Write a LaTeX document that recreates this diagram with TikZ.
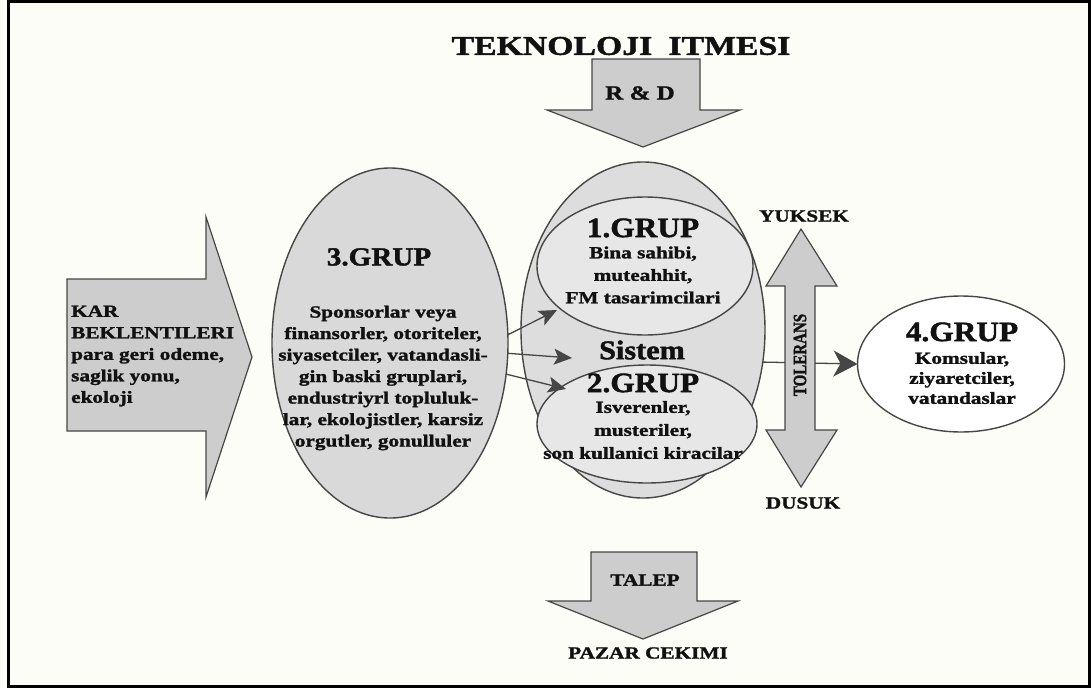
\documentclass[tikz,border=0pt]{standalone}
\usepackage{fontspec}
\usetikzlibrary{arrows.meta,shapes.geometric}
\newfontfamily\diagfont[FakeStretch=1.25,FakeBold=1.6]{Liberation Serif}
\newfontfamily\headfont[FakeStretch=1.12,FakeBold=1.6]{Liberation Serif}
\newfontfamily\plainfont[FakeBold=1.6]{Liberation Serif}
\newcommand{\fs}[2]{\fontsize{#1}{#2}\selectfont}

\definecolor{paper}{HTML}{FCFDF7}
\definecolor{edge}{HTML}{464646}
\definecolor{arrowfill}{HTML}{CDCDCD}
\definecolor{outerfill}{HTML}{D9D9D9}
\definecolor{sysfill}{HTML}{DDDDDD}
\definecolor{innerfill}{HTML}{E7E7E7}
\definecolor{ink}{HTML}{111111}

\tikzset{
  bigarrow/.style={draw=edge, line width=1.2pt, fill=arrowfill, line join=miter},
  blob/.style={ellipse, draw=edge, line width=1.4pt, inner sep=0pt, outer sep=0pt},
  txt/.style={text=ink, inner sep=0pt, font=\diagfont\bfseries\fs{17}{21.5}},
  head/.style={text=ink, inner sep=0pt, font=\headfont\bfseries\fs{27}{30}},
  feed/.style={draw=edge, line width=1.3pt,
    -{Stealth[length=18pt,width=16pt,inset=4pt,fill=edge]}},
  outlet/.style={draw=edge, line width=1.3pt,
    -{Stealth[length=24pt,width=26pt,inset=7pt,fill=edge]}},
}

\begin{document}
\begin{tikzpicture}[x=1pt,y=-1pt]
% page and frame
\fill[paper] (0,0) rectangle (1091,688);
\useasboundingbox (0,0) rectangle (1091,688);
\draw[black, line width=3pt] (8.5,1.5) rectangle (1089.5,686.5);

% heading and the R&D arrow
\node[txt, font=\diagfont\bfseries\fs{27}{30}] (push) at (621,46) {TEKNOLOJI\hspace{0.6em}ITMESI};
\draw[bigarrow] (592,59) -- (700,59) -- (700,110) -- (740,110) -- (643,147)
  -- (547,110) -- (592,110) -- cycle;
\node[txt, font=\diagfont\bfseries\fs{20}{22}] (rd) at (640,93) {R \& D};

% profit expectations arrow
\draw[bigarrow] (67,279) -- (206,279) -- (206,217) -- (252,357) -- (206,497)
  -- (206,431) -- (67,431) -- cycle;
\node[txt, align=left, anchor=west] (kar) at (71,356)
  {KAR\\BEKLENTILERI\\para geri odeme,\\saglik yonu,\\ekoloji};

% group 3
\node[blob, fill=outerfill, minimum width=236pt, minimum height=350pt] (g3) at (390,343) {};
\node[head, font=\headfont\bfseries\fs{26}{30}] (g3t) at (379,257) {3.GRUP};
\node[txt, align=center] (g3b) at (383,378)
  {Sponsorlar veya\\finansorler, otoriteler,\\siyasetciler, vatandasli-\\gin baski gruplari,\\endustriyrl topluluk-\\lar, ekolojistler, karsiz\\orgutler, gonulluler};

% the system with groups 1 and 2
\node[blob, fill=sysfill, minimum width=244pt, minimum height=336pt] (sys) at (643,330) {};
\node[blob, fill=innerfill, minimum width=216pt, minimum height=138pt] (g1) at (645,266) {};
\node[blob, fill=innerfill, minimum width=220pt, minimum height=118pt] (g2) at (647,424) {};
\node[head, font=\headfont\bfseries\fs{28}{30}] (g1t) at (643,228) {1.GRUP};
\node[txt, align=center, font=\diagfont\bfseries\fs{17}{22.5}] (g1b) at (643,275)
  {Bina sahibi,\\muteahhit,\\FM tasarimcilari};
\node[head] (sist) at (642,350) {Sistem};
\node[head, font=\headfont\bfseries\fs{28}{30}] (g2t) at (643,383) {2.GRUP};
\node[txt, align=center, font=\diagfont\bfseries\fs{17}{23}] (g2b) at (643,430)
  {Isverenler,\\musteriler,\\son kullanici kiracilar};

% influence of group 3 on the system
\coordinate (f1) at (557,310);
\coordinate (f2) at (572,358);
\coordinate (f3) at (566,389);
\draw[feed] (g3.4.8) -- (f1);
\draw[feed] (g3.-5.8) -- (f2);
\draw[feed] (g3.-15.7) -- (f3);

% group 4 and the link to it
\node[blob, fill=white, minimum width=207pt, minimum height=136pt] (g4) at (961,364) {};
\draw[outlet] (sys.-15.5) -- (g4.west);
\node[head, font=\headfont\bfseries\fs{28}{30}] (g4t) at (962,332) {4.GRUP};
\node[txt, align=center, font=\diagfont\bfseries\fs{17}{20}] (g4b) at (962,378)
  {Komsular,\\ziyaretciler,\\vatandaslar};

% tolerance scale
\draw[bigarrow] (801,229) -- (837,286) -- (815,286) -- (815,430) -- (837,430)
  -- (801,487) -- (766,430) -- (785,430) -- (785,286) -- (766,286) -- cycle;
\node[txt, rotate=90, font=\plainfont\bfseries\fs{15}{17}] (tol) at (800,355)
  {\scalebox{1}[1.25]{TOLERANS}};
\node[txt] (high) at (804,216) {YUKSEK};
\node[txt] (low) at (803,503) {DUSUK};

% demand arrow
\draw[bigarrow] (591,552) -- (697,552) -- (697,601) -- (738,601) -- (643,639)
  -- (548,601) -- (591,601) -- cycle;
\node[txt] (talep) at (645,580) {TALEP};
\node[txt] (pull) at (648,653) {PAZAR CEKIMI};
\end{tikzpicture}
\end{document}
